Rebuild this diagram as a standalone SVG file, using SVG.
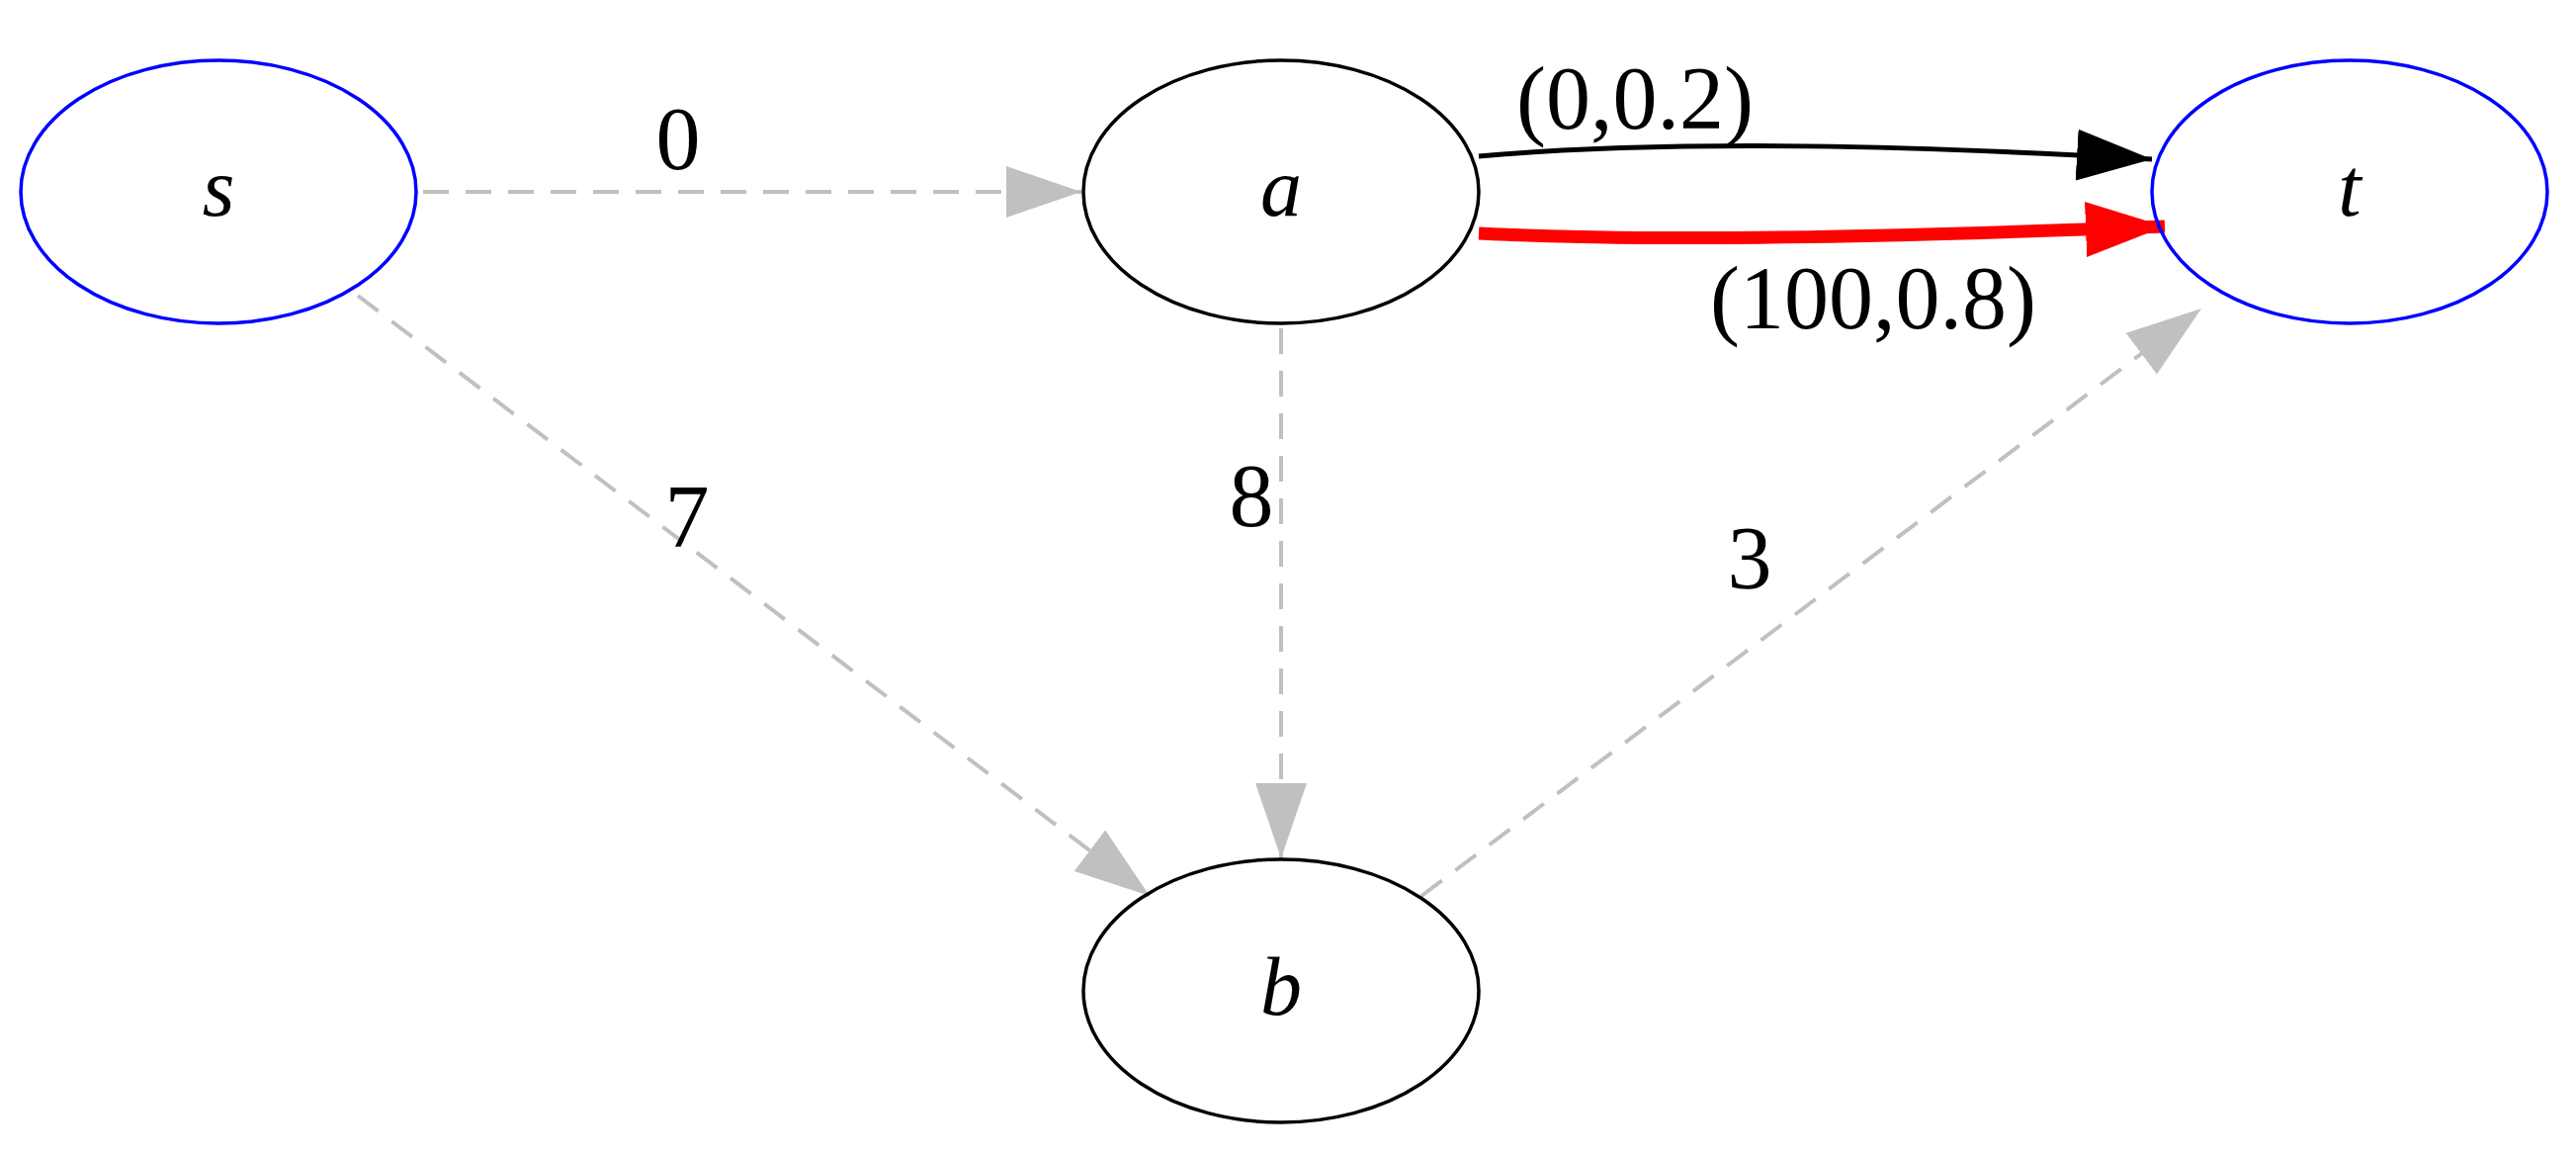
<svg xmlns="http://www.w3.org/2000/svg" width="2606" height="1170" viewBox="0 0 2606 1170">
<style>
.node{fill:none;stroke-width:3.5}
.nl{font-family:"Liberation Serif",serif;font-style:italic;font-size:84px;text-anchor:middle}
.el{font-family:"Liberation Serif",serif;font-size:90px;text-anchor:middle}
.g{fill:none;stroke:#c0c0c0;stroke-width:4;stroke-dasharray:26 17}
</style>
<defs>
<marker id="ag" markerUnits="userSpaceOnUse" markerWidth="76" markerHeight="52" refX="76" refY="26" orient="auto"><path d="M0,0L76,26L0,52z" fill="#c0c0c0"/></marker>
<marker id="ak" markerUnits="userSpaceOnUse" markerWidth="76" markerHeight="52" refX="76" refY="26" orient="auto"><path d="M0,0L76,26L0,52z" fill="#000"/></marker>
<marker id="ar" markerUnits="userSpaceOnUse" markerWidth="80" markerHeight="56" refX="80" refY="28" orient="auto"><path d="M0,0L80,28L0,56z" fill="#f00"/></marker>
</defs>
<rect width="2606" height="1170" fill="#fff"/>
<g id="edges">
<path class="g" d="M428,194L1094,194" marker-end="url(#ag)"/>
<path class="g" d="M362,299L1163,906" marker-end="url(#ag)"/>
<path class="g" d="M1296,332L1296,868" marker-end="url(#ag)"/>
<path class="g" d="M1438,906L2227,312" marker-end="url(#ag)"/>
<path d="M1496,158C1700,140 1950,148 2177,161" fill="none" stroke="#000" stroke-width="5" marker-end="url(#ak)"/>
<path d="M1496,236C1700,246 1950,238 2190,229" fill="none" stroke="#f00" stroke-width="13" marker-end="url(#ar)"/>
<text class="el" x="686" y="171">0</text>
<text class="el" x="695" y="553">7</text>
<text class="el" x="1266" y="532">8</text>
<text class="el" x="1770" y="595">3</text>
<text class="el" x="1654" y="130">(0,0.2)</text>
<text class="el" x="1895" y="332">(100,0.8)</text>
</g>
<g id="s"><ellipse class="node" stroke="#00f" cx="221" cy="194" rx="200" ry="133"/><text class="nl" x="221" y="218">s</text></g>
<g id="a"><ellipse class="node" stroke="#000" cx="1296" cy="194" rx="200" ry="133"/><text class="nl" x="1296" y="218">a</text></g>
<g id="t"><ellipse class="node" stroke="#00f" cx="2377" cy="194" rx="200" ry="133"/><text class="nl" x="2377" y="218">t</text></g>
<g id="b"><ellipse class="node" stroke="#000" cx="1296" cy="1002" rx="200" ry="133"/><text class="nl" x="1296" y="1026">b</text></g>
</svg>
